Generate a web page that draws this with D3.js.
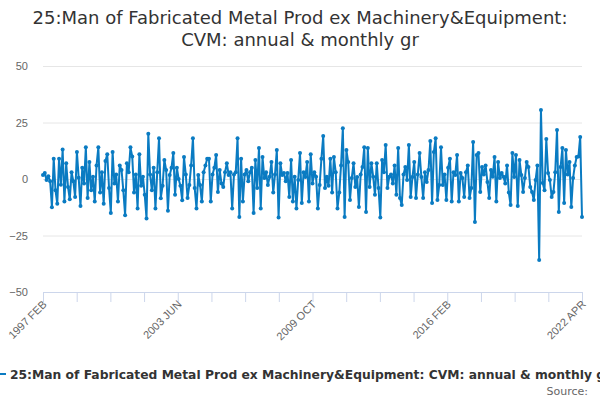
<!DOCTYPE html>
<html>
<head>
<meta charset="utf-8">
<script src="https://cdn.jsdelivr.net/npm/d3@7"></script>
<style>
  body { margin: 0; background: #fff; }
  svg { font-family: "DejaVu Sans", sans-serif; }
</style>
</head>
<body>
<svg></svg>
<script>
// monthly growth, Feb 1997 .. Apr 2022
const values = [
  1.8, 2.6, -0.4, 1.2, -1.0, -12.5, 9.0, -5.0, -11.0, 9.0, -2.5, 13.0,
  -10.0, 7.0, -3.5, -9.0, 3.0, -1.0, -8.0, 12.0, 0.5, -12.0, 5.0, -2.0,
  14.0, -8.4, 7.5, -5.0, 1.0, -10.0, 6.0, 14.0, -6.0, 3.0, -11.0, 8.0,
  11.0, -4.0, -15.0, 12.0, -2.0, 2.0, -10.0, 6.0, 4.0, -5.0, -16.0, 7.0,
  3.0, 14.0, 10.0, -6.0, 2.0, -13.0, 11.0, -3.0, 1.0, -7.0, -17.5, 20.0,
  2.0, -5.0, 5.0, -13.0, 3.0, 18.0, -8.5, -3.0, 8.4, 4.0, -14.0, 1.8,
  5.0, 11.5, -7.0, 5.0, 0.0, -3.0, -9.4, 9.7, 2.0, -8.4, -2.7, 6.0,
  18.0, -4.0, -13.0, 1.8, -2.7, -10.0, 3.0, 6.0, 9.0, 9.0, -10.0, 2.0,
  5.0, 10.6, -5.8, 4.0, -2.0, -3.5, 3.0, 7.0, 1.8, 3.0, -13.0, 2.0,
  3.0, 18.0, -16.8, 9.0, -10.0, 2.0, 4.0, -1.0, 3.0, 5.0, -15.0, 8.4,
  -4.0, 13.7, -13.0, 9.7, 0.4, 3.0, -2.7, 1.0, 7.5, -6.0, 2.0, 12.8,
  -17.0, 7.0, 1.8, 2.6, -1.0, 2.6, -8.0, 8.4, -10.0, 1.0, -13.0, -0.4,
  11.5, -10.6, 3.0, 0.9, 7.5, -10.0, 11.0, -2.0, 3.0, 1.0, -13.0, -2.7,
  9.0, 19.0, -4.0, 1.0, -3.0, 9.0, -6.0, 9.7, 3.0, -13.0, -6.0, 6.0,
  22.5, -16.8, 12.8, 7.5, -9.3, 0.4, 7.0, -3.5, 0.9, -12.4, 2.0, 5.3,
  14.0, -14.6, 13.7, -3.5, 7.0, 1.0, -7.0, 7.0, -4.0, -17.0, 8.4, 3.0,
  15.0, -4.0, 1.0, 2.0, -2.0, 6.0, -7.0, 13.7, -8.4, -11.5, 2.0, 5.3,
  -0.4, 15.0, -8.0, 0.9, 7.5, -8.4, 2.0, 11.5, 0.9, -8.4, 3.0, -1.3,
  4.0, 16.8, -10.6, 12.0, 18.0, -9.3, -2.7, 14.0, -2.7, 2.0, -9.3, 5.0,
  9.0, -10.0, 3.0, 1.8, 10.6, -10.0, 2.6, 0.4, -8.0, 3.0, 6.0, -8.4,
  -4.0, 16.4, -19.0, 10.6, 11.5, -5.8, 5.3, 2.0, 6.0, -1.3, -8.4, 4.0,
  1.0, 9.7, -10.0, 7.5, 0.4, 2.6, 1.0, -2.0, 6.0, -6.0, -11.5, 11.5,
  0.9, 10.6, -12.0, 8.4, 1.8, -5.8, 0.4, 7.5, 5.3, -3.5, -5.8, -9.3,
  -0.4, 6.0, -35.8, 30.5, -1.8, -5.0, 17.7, 2.6, -0.4, -8.0, -5.8, 3.0,
  21.7, -14.6, 5.3, 13.7, -10.6, 12.8, 2.0, 7.5, -12.4, 0.4, 6.0, 9.7,
  10.0, 18.6, -16.8
];
const yTicks = [-50, -25, 0, 25, 50];
const xTickLabels = ["1997 FEB", "2003 JUN", "2009 OCT", "2016 FEB", "2022 APR"];
const titleLines = [
  "25:Man of Fabricated Metal Prod ex Machinery&Equipment:",
  "CVM: annual & monthly gr"
];
const seriesName = "25:Man of Fabricated Metal Prod ex Machinery&Equipment: CVM: annual & monthly gr";

const width = 600;
const height = 400;
const margin = { top: 66, right: 18, bottom: 108, left: 43 };
const colour = "#0a7bc2";

const svg = d3.select("svg")
    .attr("width", width)
    .attr("height", height);

// Scales
const last = values.length - 1;
const x = d3.scaleLinear()
    .domain([0, last])
    .range([margin.left, width - margin.right]);

const y = d3.scaleLinear()
    .domain([-50, 50])
    .range([height - margin.bottom, margin.top]);

// Title
svg.append("g")
  .selectAll("text")
  .data(titleLines)
  .enter()
  .append("text")
    .attr("x", width / 2)
    .attr("y", (d, i) => 24 + i * 21.5)
    .attr("text-anchor", "middle")
    .attr("font-size", "18px")
    .attr("fill", "#333")
    .text(d => d);

// Grid + y labels
const yAxis = d3.axisLeft(y)
    .tickValues(yTicks)
    .tickSize(-(width - margin.left - margin.right))
    .tickPadding(15);

svg.append("g")
    .attr("transform", `translate(${margin.left},0)`)
    .call(yAxis)
    .call(g => g.select(".domain").remove())
    .call(g => g.selectAll(".tick line").attr("stroke", "#e6e6e6"))
    .call(g => g.selectAll(".tick text")
        .attr("fill", "#666")
        .attr("font-size", "11px"));

// X axis: 17 tick marks, label on every 4th
const tickPos = d3.range(17).map(i => i * last / 16);
const xAxis = d3.axisBottom(x)
    .tickValues(tickPos)
    .tickSize(10)
    .tickSizeOuter(0)
    .tickFormat((d, i) => i % 4 === 0 ? xTickLabels[i / 4] : "");

svg.append("g")
    .attr("transform", `translate(0,${height - margin.bottom})`)
    .call(xAxis)
    .call(g => g.select(".domain").attr("stroke", "#ccd6eb"))
    .call(g => g.selectAll(".tick line").attr("stroke", "#ccd6eb"))
    .call(g => g.selectAll(".tick text")
        .attr("fill", "#666")
        .attr("font-size", "11px")
        .attr("text-anchor", "end")
        .attr("dy", null)
        .attr("y", 0)
        .attr("transform", "translate(4,13) rotate(-45)"));

// Series
const line = d3.line()
    .x((d, i) => x(i))
    .y(d => y(d));

svg.append("path")
    .datum(values)
    .attr("fill", "none")
    .attr("stroke", colour)
    .attr("stroke-width", 2)
    .attr("stroke-linejoin", "round")
    .attr("d", line);

svg.append("g")
  .selectAll("circle")
  .data(values)
  .enter()
  .append("circle")
    .attr("cx", (d, i) => x(i))
    .attr("cy", d => y(d))
    .attr("r", 2)
    .attr("fill", colour);

// Legend
const legend = svg.append("g").attr("transform", "translate(0,374)");
legend.append("line")
    .attr("x1", -8).attr("x2", 6)
    .attr("y1", 0).attr("y2", 0)
    .attr("stroke", colour)
    .attr("stroke-width", 2);
legend.append("text")
    .attr("x", 10)
    .attr("y", 4.5)
    .attr("font-size", "12.3px")
    .attr("font-weight", "bold")
    .attr("fill", "#333")
    .text(seriesName);

svg.append("text")
    .attr("x", 588)
    .attr("y", 395)
    .attr("text-anchor", "end")
    .attr("font-size", "11px")
    .attr("fill", "#666")
    .text("Source:");
</script>
</body>
</html>
